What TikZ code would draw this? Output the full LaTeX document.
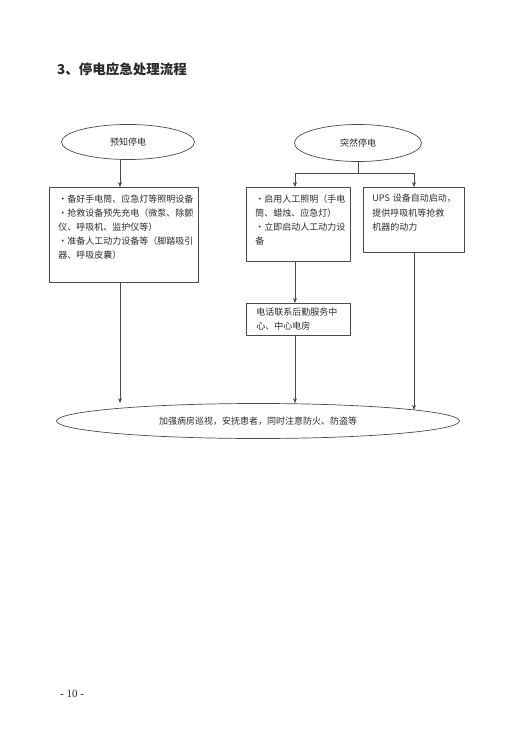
\documentclass[tikz,border=0pt]{standalone}
\usepackage{fontspec}
\setmainfont{Liberation Serif}
\newfontfamily\cjk{Noto Sans CJK SC}
\usetikzlibrary{arrows.meta,shapes.geometric}
\definecolor{ink}{HTML}{2B2B2B}
\definecolor{edge}{HTML}{4A4A4A}
\tikzset{
  every picture/.style={line join=round, >=Stealth},
  flowtext/.style={font=\cjk\fontsize{9}{14.2}\selectfont, text=ink},
  oval/.style={draw=edge, line width=0.7pt, ellipse, inner sep=0pt, flowtext},
  stepbox/.style={draw=edge, line width=0.8pt, rectangle, anchor=north west, align=left, inner xsep=9pt, inner ysep=7pt, flowtext},
  arr/.style={draw=edge, line width=0.7pt, -{Stealth[length=5pt,width=4pt]}},
  link/.style={draw=edge, line width=0.7pt},
}

\begin{document}
\begin{tikzpicture}[x=1pt,y=-1pt]
\useasboundingbox (0,0) rectangle (519,733);
\node[anchor=base west, inner sep=0pt, font=\cjk\bfseries\fontsize{13.5}{16}\selectfont, text=ink] (title) at (57,75) {3、停电应急处理流程};
\node[oval, minimum width=133pt, minimum height=35pt] (known) at (128,142) {预知停电};
\node[oval, minimum width=127pt, minimum height=37pt] (sudden) at (358,143) {突然停电};
\node[stepbox, text width=131pt, text depth=73pt] (prep) at (49,187) {•备好手电筒、应急灯等照明设备\\•抢救设备预先充电（微泵、除颤\\仪、呼吸机、监护仪等）\\•准备人工动力设备等（脚踏吸引\\器、呼吸皮囊）};
\node[stepbox, text width=86pt, text depth=52pt] (light) at (246,187) {•启用人工照明（手电\\筒、蜡烛、应急灯）\\•立即启动人工动力设\\备};
\node[stepbox, text width=83pt, text depth=43pt] (ups) at (363,187) {\hbox{UPS~设备自动启动，}\\提供呼吸机等抢救\\机器的动力};
\node[stepbox, text width=84pt, text depth=15pt, inner xsep=10pt, inner ysep=4.5pt] (phone) at (246,303) {电话联系后勤服务中\\心、中心电房};
\node[oval, minimum width=403pt, minimum height=35pt] (patrol) at (258,421) {加强病房巡视，安抚患者，同时注意防火、防盗等};
\node[anchor=base west, inner sep=0pt, font=\fontsize{11}{13}\selectfont, text=ink] (page) at (60,697) {- 10 -};
% columns of the connectors
\coordinate (colA) at (120,0);
\coordinate (colB) at (295,0);
\coordinate (colC) at (414,0);
\coordinate (fork) at (358,173);
\draw[arr] (known.south -| colA) -- (prep.north -| colA);
\draw[link] (sudden.south) -- (fork);
\draw[arr] (fork) -| (light.north -| colB);
\draw[arr] (fork) -| (ups.north -| colC);
\draw[arr] (light.south -| colB) -- (phone.north -| colB);
\draw[arr] (prep.south -| colA) -- (patrol.north -| colA);
\draw[arr] (phone.south -| colB) -- (patrol.north -| colB);
\draw[arr] (ups.south -| colC) -- (colC |- patrol.4);
\end{tikzpicture}
\end{document}
